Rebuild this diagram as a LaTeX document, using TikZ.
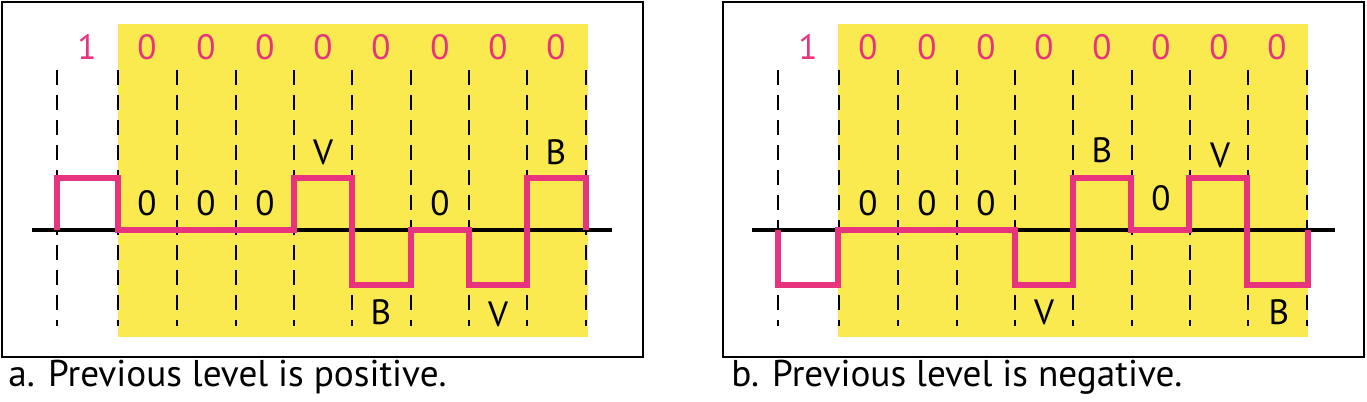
\documentclass[tikz,border=0pt]{standalone}
\usepackage{fontspec}
\setmainfont{PT Sans}
\usetikzlibrary{positioning}
\definecolor{hdbyellow}{HTML}{FAE94F}
\definecolor{hdbpink}{HTML}{E8337F}
\tikzset{
	panel/.style={
			draw=black,
			line width=1.5pt
		},
	subst/.style={
			fill=hdbyellow,
			draw=none
		},
	slot/.style={
			draw=black,
			line width=1.5pt,
			dash pattern=on 0.3cm off 0.2cm
		},
	axis/.style={
			draw=black,
			line width=1.8pt
		},
	signal/.style={
			draw=hdbpink,
			line width=3.4pt,
			line join=miter
		},
	bitlabel/.style={
			text=hdbpink,
			inner sep=0pt,
			font=\fontsize{20}{24}\selectfont
		},
	pulselabel/.style={
			text=black,
			inner sep=0pt,
			font=\fontsize{20}{24}\selectfont
		},
	caption/.style={
			anchor=base west,
			inner sep=0pt,
			font=\fontsize{21.2}{25}\selectfont
		}
}

\begin{document}
\begin{tikzpicture}[x=0.02cm, y=-0.02cm]
\useasboundingbox (0,0) rectangle (1367,402);

% a. previous level positive
\begin{scope}[name prefix=a-]
\draw[panel] (2,2) rectangle (643,357);
\fill[subst] (118,24) rectangle (588,337);
\foreach \x in {57,118,177,236,294,352,411,469,527,586}
	\draw[slot] (\x,70) -- (\x,326);
\draw[axis] (32,230) -- (612,230);
\draw[signal] (57,230) -- (57,178) -- (118,178) -- (118,230) -- (294,230)
	-- (294,178) -- (352,178) -- (352,285) -- (411,285) -- (411,230)
	-- (469,230) -- (469,285) -- (527,285) -- (527,178) -- (586,178) -- (586,230);

\node[bitlabel] (one) at (87,47) {1};
\foreach \x [count=\i] in {147,206,265,323,381,440,498,556}
	\node[bitlabel] (zero\i) at (\x,47) {0};

\node[pulselabel] (p1) at (147,203) {0};
\node[pulselabel] (p2) at (206,203) {0};
\node[pulselabel] (p3) at (265,203) {0};
\node[pulselabel] (p4) at (323,152) {V};
\node[pulselabel] (p5) at (381,312) {B};
\node[pulselabel] (p6) at (440,203) {0};
\node[pulselabel] (p7) at (498,314) {V};
\node[pulselabel] (p8) at (556,152) {B};

\node[caption] (cap) at (8,386) {a. Previous level is positive.};
\end{scope}

% b. previous level negative
\begin{scope}[shift={(721,0)}, name prefix=b-]
\draw[panel] (2,2) rectangle (643,357);
\fill[subst] (117,24) rectangle (587,337);
\foreach \x in {57,118,177,236,294,352,411,469,527,586}
	\draw[slot] (\x,70) -- (\x,326);
\draw[axis] (31,230) -- (614,230);
\draw[signal] (57,230) -- (57,285) -- (117,285) -- (117,230) -- (294,230)
	-- (294,285) -- (352,285) -- (352,178) -- (410,178) -- (410,230)
	-- (468,230) -- (468,178) -- (526,178) -- (526,285) -- (587,285) -- (587,230);

\node[bitlabel] (one) at (87,47) {1};
\foreach \x [count=\i] in {147,206,265,323,381,440,498,556}
	\node[bitlabel] (zero\i) at (\x,47) {0};

\node[pulselabel] (p1) at (147,203) {0};
\node[pulselabel] (p2) at (206,203) {0};
\node[pulselabel] (p3) at (265,203) {0};
\node[pulselabel] (p4) at (323,312) {V};
\node[pulselabel] (p5) at (381,150) {B};
\node[pulselabel] (p6) at (440,198) {0};
\node[pulselabel] (p7) at (499,155) {V};
\node[pulselabel] (p8) at (558,312) {B};

\node[caption] (cap) at (10,386) {b. Previous level is negative.};
\end{scope}
\end{tikzpicture}
\end{document}
